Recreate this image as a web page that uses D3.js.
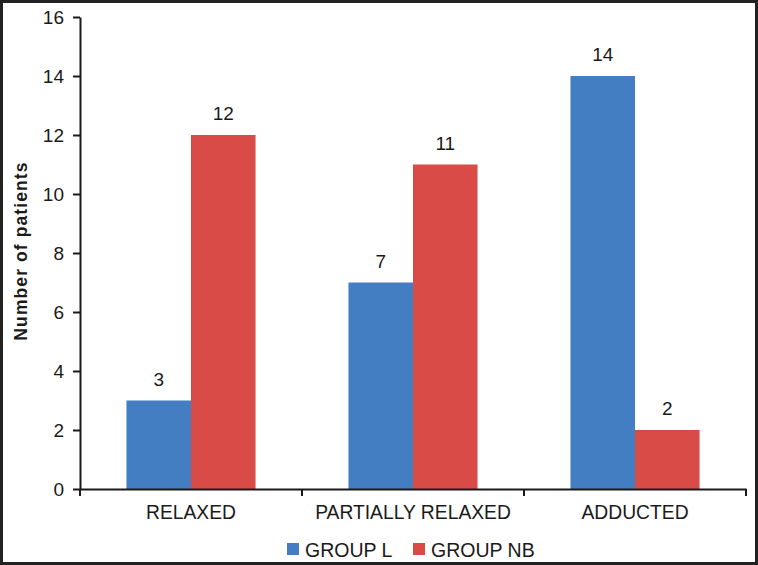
<!DOCTYPE html>
<html><head><meta charset="utf-8">
<script src="https://cdn.jsdelivr.net/npm/d3@7"></script>
<style>
body{margin:0;background:#fff;}
svg text{font-family:"Liberation Sans",Arial,Helvetica,sans-serif;fill:#1a1a1a;}
</style></head>
<body>
<svg id="chart" width="758" height="565"></svg>
<script>
const categories = ["RELAXED", "PARTIALLY RELAXED", "ADDUCTED"];
const seriesNames = ["GROUP L", "GROUP NB"];
const groupL = [3, 7, 14];
const groupNB = [12, 11, 2];
const yTicks = [0, 2, 4, 6, 8, 10, 12, 14, 16];
const colors = ["#437dc2", "#d84b47"];

const svg = d3.select("#chart");
const W = 758, H = 565;
const mLeft = 80, mRight = 746, mTop = 17, mBottom = 489;

svg.append("rect").attr("x",1.5).attr("y",1.5).attr("width",W-3).attr("height",H-3)
  .attr("fill","#fff").attr("stroke","#222").attr("stroke-width",3);

const y = d3.scaleLinear().domain([0,16]).range([mBottom, mTop]);
const x0 = d3.scaleBand().domain(categories).range([mLeft, mRight]).paddingInner(0).paddingOuter(0);
const x1 = d3.scaleBand().domain(seriesNames).range([0, x0.bandwidth()]).paddingInner(0).paddingOuter(0.72);

const data = categories.map((c,i)=>({cat:c, vals:[groupL[i], groupNB[i]]}));

const g = svg.append("g");
data.forEach(d=>{
  d.vals.forEach((v,j)=>{
    const bx = x0(d.cat) + x1(seriesNames[j]);
    g.append("rect").attr("x",bx).attr("y",y(v)).attr("width",x1.bandwidth()).attr("height",y(0)-y(v))
      .attr("fill",colors[j]);
    g.append("text").attr("x",bx + x1.bandwidth()/2).attr("y",y(v)-15)
      .attr("text-anchor","middle").attr("font-size",19).text(v);
  });
});

// Y axis
const yAxis = d3.axisLeft(y).tickValues(yTicks).tickSize(7).tickSizeOuter(0).tickPadding(9);
const ya = svg.append("g").attr("transform",`translate(${mLeft},0)`).call(yAxis);
ya.select(".domain").attr("stroke","#1a1a1a").attr("stroke-width",2);
ya.selectAll(".tick line").attr("stroke","#1a1a1a").attr("stroke-width",2);
ya.selectAll(".tick text").attr("font-size",19).attr("fill","#1a1a1a").attr("font-family","Liberation Sans, Arial, sans-serif");

// X axis
const xAxis = d3.axisBottom(x0).tickSize(0).tickSizeOuter(0);
const xa = svg.append("g").attr("transform",`translate(0,${mBottom})`).call(xAxis);
xa.select(".domain").attr("stroke","#1a1a1a").attr("stroke-width",2);
xa.selectAll(".tick text").attr("y",30).attr("dy",0).attr("font-size",19.3).attr("fill","#1a1a1a").attr("font-family","Liberation Sans, Arial, sans-serif");
const bounds = categories.map(c=>x0(c)).concat([x0.range()[1]]);
xa.selectAll(".bt").data(bounds).enter().append("line").attr("class","bt")
  .attr("x1",d=>d).attr("x2",d=>d).attr("y1",0).attr("y2",7)
  .attr("stroke","#1a1a1a").attr("stroke-width",2);

// Y label
svg.append("text").attr("transform",`translate(27,251) rotate(-90)`)
  .attr("text-anchor","middle").attr("font-size",17.5).attr("font-weight","bold")
  .attr("letter-spacing",1.1)
  .text("Number of patients");

// Legend
const lg = svg.append("g");
const legendX = [287, 413];
seriesNames.forEach((s,j)=>{
  lg.append("rect").attr("x",legendX[j]).attr("y",543).attr("width",12).attr("height",12).attr("fill",colors[j]);
  lg.append("text").attr("x",legendX[j]+18).attr("y",557).attr("font-size",19.5).text(s);
});
</script>
</body></html>
